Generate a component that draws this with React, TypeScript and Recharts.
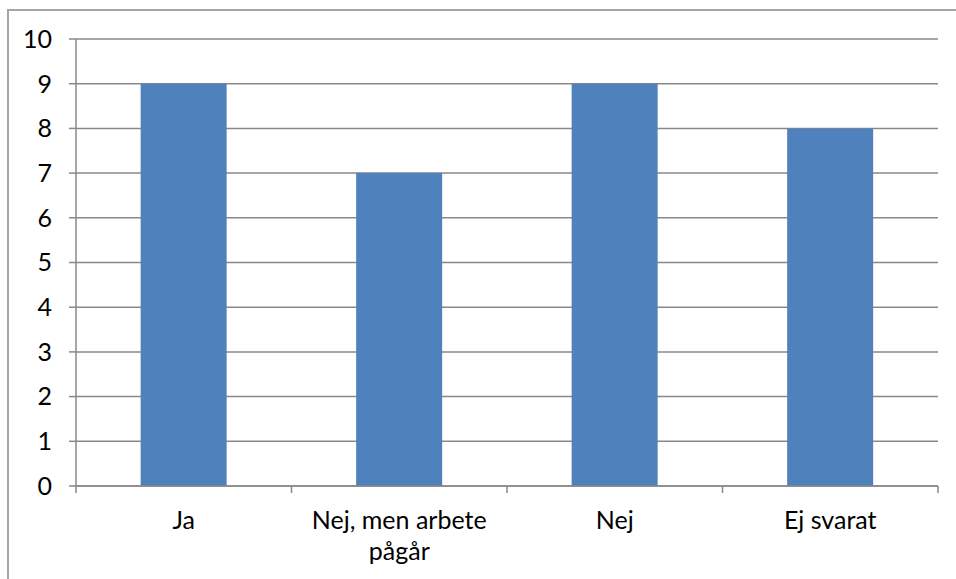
import React from "react";
import { BarChart, Bar, XAxis, YAxis, CartesianGrid } from "recharts";

const categories = ["Ja", "Nej, men arbete pågår", "Nej", "Ej svarat"];
const values = [9, 7, 9, 8];
const yTicks = [0, 1, 2, 3, 4, 5, 6, 7, 8, 9, 10];

const data = categories.map((c, i) => ({ name: c, value: values[i] }));

const FONT = "Lato, 'Open Sans', sans-serif";
const FS = 25;
const GRID = "#898989";
const TICK_SIZE = 7;
const TICK_MARGIN = 19;
const MAX_CHARS = 16;

function wrap(label: string): string[] {
  const words = label.split(" ");
  const lines: string[] = [];
  let cur = "";
  for (const w of words) {
    const next = cur ? cur + " " + w : w;
    if (next.length > MAX_CHARS && cur) {
      lines.push(cur);
      cur = w;
    } else {
      cur = next;
    }
  }
  if (cur) lines.push(cur);
  return lines;
}

const XTick = (props: any) => {
  const { x, y, payload, index, width, visibleTicksCount } = props;
  const n = visibleTicksCount || categories.length;
  const bw = width / n;
  const y0 = y - TICK_SIZE - TICK_MARGIN;
  const lines = wrap(String(payload.value));
  return (
    <g>
      <line x1={x - bw / 2} x2={x - bw / 2} y1={y0} y2={y0 + TICK_SIZE} stroke={GRID} strokeWidth={1.5} />
      {index === n - 1 && (
        <line x1={x + bw / 2} x2={x + bw / 2} y1={y0} y2={y0 + TICK_SIZE} stroke={GRID} strokeWidth={1.5} />
      )}
      <text x={x} y={y} textAnchor="middle" fontSize={FS} fontFamily={FONT} fill="#000">
        {lines.map((l, i) => (
          <tspan key={i} x={x} dy={i === 0 ? "0.68em" : 31}>
            {l}
          </tspan>
        ))}
      </text>
    </g>
  );
};

export default function App() {
  return (
    <div style={{ position: "fixed", left: 0, top: 0, width: 956, height: 579, overflow: "hidden", background: "#fff" }}>
      <div
        style={{
          position: "absolute",
          left: 7,
          top: 9,
          width: 2000,
          height: 2000,
          borderLeft: "2px solid #a6a6a6",
          borderTop: "2px solid #a6a6a6",
        }}
      />
      <div style={{ position: "absolute", left: 0, top: 0 }}>
        <BarChart
          width={956}
          height={579}
          data={data}
          margin={{ top: 39, right: 18, bottom: 13, left: 0 }}
          barCategoryGap="30%"
        >
          <CartesianGrid vertical={false} stroke={GRID} strokeWidth={1.5} />
          <XAxis
            dataKey="name"
            height={80}
            interval={0}
            axisLine={{ stroke: GRID, strokeWidth: 1.5 }}
            tickLine={false}
            tickSize={TICK_SIZE}
            tickMargin={TICK_MARGIN}
            tick={<XTick />}
          />
          <YAxis
            width={76}
            domain={[0, 10]}
            ticks={yTicks}
            interval={0}
            axisLine={{ stroke: GRID, strokeWidth: 1.5 }}
            tickLine={{ stroke: GRID, strokeWidth: 1.5 }}
            tickSize={7}
            tickMargin={17}
            tick={{ fontSize: FS, fontFamily: FONT, fill: "#000" }}
          />
          <Bar dataKey="value" fill="#4f81bd" isAnimationActive={false} />
        </BarChart>
      </div>
    </div>
  );
}
